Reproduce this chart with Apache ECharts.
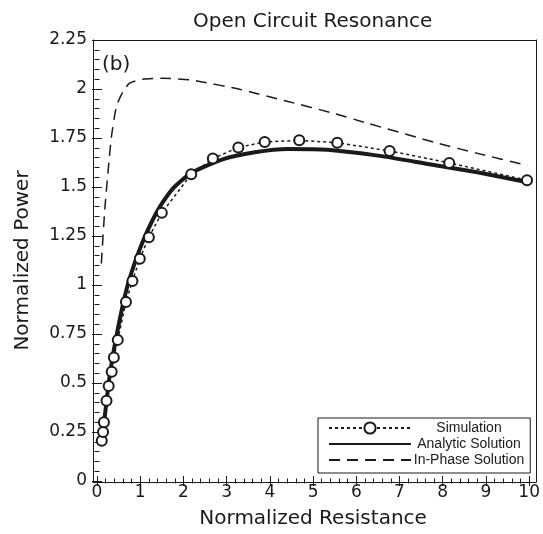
<!DOCTYPE html>
<html>
<head>
<meta charset="utf-8">
<script src="https://cdn.jsdelivr.net/npm/echarts@6/dist/echarts.min.js"></script>
<style>
  html, body { margin: 0; padding: 0; background: #fff; }
  #chart { width: 543px; height: 534px; }
</style>
</head>
<body>
<div id="chart"></div>
<script>
// simulation points (circles)
var simX = [0.11, 0.14, 0.16, 0.22, 0.27, 0.34, 0.39, 0.48, 0.67, 0.82, 0.99, 1.2, 1.5, 2.18, 2.68, 3.27, 3.88, 4.68, 5.56, 6.77, 8.15, 9.95];
var simY = [0.205, 0.25, 0.30, 0.409, 0.485, 0.557, 0.63, 0.72, 0.913, 1.02, 1.134, 1.244, 1.368, 1.565, 1.645, 1.702, 1.73, 1.738, 1.726, 1.684, 1.623, 1.535];
// analytic solution (thick solid)
var anaX = [0.1, 0.17, 0.27, 0.36, 0.46, 0.58, 0.71, 0.83, 0.95, 1.1, 1.27, 1.44, 1.63, 1.82, 2.2, 2.89, 3.65, 4.42, 5.33, 6.5, 7.62, 8.8, 9.96];
var anaY = [0.2, 0.31, 0.5, 0.63, 0.75, 0.88, 1.0, 1.085, 1.16, 1.243, 1.324, 1.394, 1.457, 1.506, 1.574, 1.640, 1.677, 1.694, 1.690, 1.66, 1.619, 1.575, 1.524];
// in-phase solution (dashed)
var inX = [0.1, 0.18, 0.26, 0.336, 0.45, 0.6, 0.755, 1.06, 1.52, 2.13, 2.43, 3.27, 4.42, 5.41, 6.25, 7.92, 8.76, 9.96];
var inY = [1.11, 1.385, 1.589, 1.76, 1.911, 1.987, 2.030, 2.050, 2.055, 2.047, 2.036, 2.0, 1.936, 1.880, 1.826, 1.721, 1.674, 1.61];

var names = ['Simulation', 'Analytic Solution', 'In-Phase Solution'];

function pairs(xs, ys) {
	var out = [];
	for (var i = 0; i < xs.length; i++) out.push([xs[i], ys[i]]);
	return out;
}

var ink = '#1a1a1a';
var font = 'DejaVu Sans';

window.onload = function() {
	var chart = echarts.init(document.getElementById('chart'));

	// ticks/labels only (no axis line) for the data grid
	var tickAxis = {
		axisLine: { show: false },
		axisTick: { show: true, inside: true, length: 5, lineStyle: { color: ink, width: 1 } },
		minorTick: { show: true, splitNumber: 5, length: 2.5, lineStyle: { color: ink, width: 1 } },
		splitLine: { show: false },
		minorSplitLine: { show: false }
	};
	// frame only
	var frameAxis = {
		axisLine: { show: true, onZero: false, lineStyle: { color: ink, width: 1 } },
		axisTick: { show: false },
		axisLabel: { show: false },
		splitLine: { show: false }
	};

	var option = {
		animation: false,
		backgroundColor: '#fff',
		title: [{
			text: 'Open Circuit Resonance',
			left: 188,
			top: 7,
			textStyle: { fontFamily: font, fontSize: 20, fontWeight: 'normal', color: ink }
		}, {
			text: '(b)',
			left: 97,
			top: 50,
			textStyle: { fontFamily: font, fontSize: 20, fontWeight: 'normal', color: ink }
		}],
		legend: {
			// line-only entries: hide the marker drawn in the middle of the icon
			data: [
				{ name: names[0] },
				{ name: names[1], itemStyle: { opacity: 0 } },
				{ name: names[2], itemStyle: { opacity: 0 } }
			],
			orient: 'vertical',
			left: 318,
			top: 418,
			align: 'left',
			itemWidth: 82,
			itemHeight: 14,
			itemGap: 2,
			padding: [3, 6, 6, 10],
			borderColor: ink,
			borderWidth: 1,
			formatter: function(n) { return '{a|' + n + '}'; },
			textStyle: {
				rich: {
					a: { width: 106, align: 'center', fontFamily: 'Liberation Sans', fontSize: 14, color: ink }
				}
			}
		},
		grid: [
			{ left: 97, right: 9, top: 40, bottom: 52 },
			{ left: 93, right: 7, top: 40, bottom: 52 }
		],
		xAxis: [
			Object.assign({}, tickAxis, {
				type: 'value', gridIndex: 0, position: 'bottom',
				min: 0, max: 10, interval: 1,
				name: 'Normalized Resistance', nameLocation: 'middle', nameGap: 28,
				nameTextStyle: { fontFamily: font, fontSize: 20, color: ink },
				axisLabel: { margin: 3, fontFamily: font, fontSize: 17, color: ink }
			}),
			Object.assign({}, tickAxis, {
				type: 'value', gridIndex: 0, position: 'top',
				min: 0, max: 10, interval: 1,
				axisLabel: { show: false }
			}),
			Object.assign({}, frameAxis, { type: 'value', gridIndex: 1, position: 'bottom', min: 0, max: 1 }),
			Object.assign({}, frameAxis, { type: 'value', gridIndex: 1, position: 'top', min: 0, max: 1 })
		],
		yAxis: [
			Object.assign({}, tickAxis, {
				type: 'value', gridIndex: 0, position: 'left', offset: 4,
				min: 0, max: 2.25, interval: 0.25,
				name: 'Normalized Power', nameLocation: 'middle', nameGap: 60,
				nameTextStyle: { fontFamily: font, fontSize: 20, color: ink },
				axisLabel: { margin: 6, fontFamily: font, fontSize: 17, color: ink }
			}),
			Object.assign({}, tickAxis, {
				type: 'value', gridIndex: 0, position: 'right', offset: 2,
				min: 0, max: 2.25, interval: 0.25,
				axisLabel: { show: false }
			}),
			Object.assign({}, frameAxis, { type: 'value', gridIndex: 1, position: 'left', min: 0, max: 1 }),
			Object.assign({}, frameAxis, { type: 'value', gridIndex: 1, position: 'right', min: 0, max: 1 })
		],
		series: [{
			name: names[0],
			type: 'line',
			xAxisIndex: 0, yAxisIndex: 0,
			data: pairs(simX, simY),
			symbol: 'emptyCircle',
			symbolSize: 10,
			z: 4,
			lineStyle: { color: ink, width: 1.5, type: [3, 3] },
			itemStyle: { color: ink, borderColor: ink, borderWidth: 1.5 }
		}, {
			name: names[1],
			type: 'line',
			xAxisIndex: 0, yAxisIndex: 0,
			data: pairs(anaX, anaY),
			smooth: 0.2,
			showSymbol: false,
			symbol: 'none',
			z: 3,
			lineStyle: { color: ink, width: 4 },
			itemStyle: { color: ink }
		}, {
			name: names[2],
			type: 'line',
			xAxisIndex: 0, yAxisIndex: 0,
			data: pairs(inX, inY),
			smooth: 0.2,
			showSymbol: false,
			symbol: 'none',
			z: 2,
			lineStyle: { color: ink, width: 1.5, type: [11, 7] },
			itemStyle: { color: ink }
		}]
	};
	chart.setOption(option);
};
</script>
</body>
</html>
